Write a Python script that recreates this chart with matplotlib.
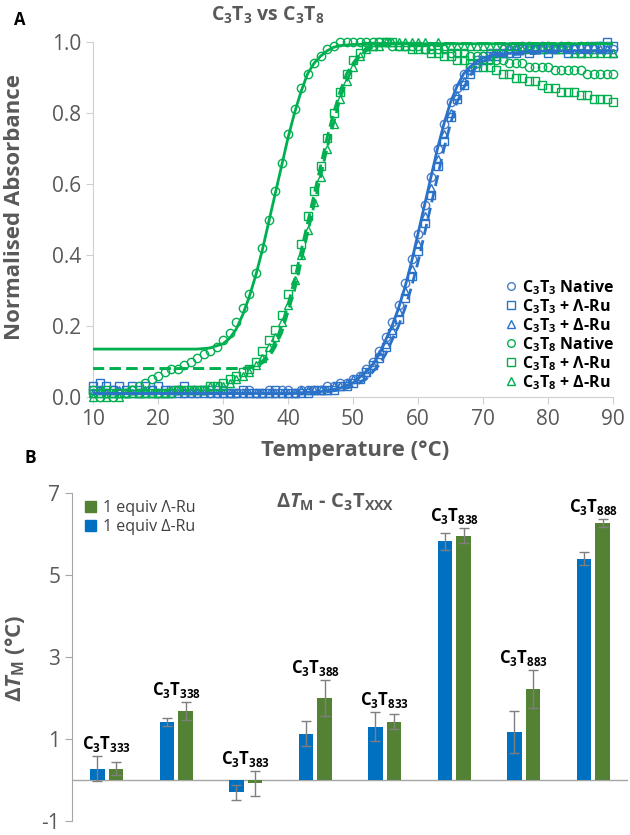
import numpy as np
import matplotlib
matplotlib.use('Agg')
import matplotlib.pyplot as plt
from matplotlib.lines import Line2D
from matplotlib.patches import Patch

plt.rcParams['font.family'] = ['Open Sans', 'DejaVu Sans']
plt.rcParams['mathtext.fontset'] = 'custom'
plt.rcParams['mathtext.rm'] = 'Open Sans'
plt.rcParams['mathtext.bf'] = 'Open Sans:bold'
plt.rcParams['mathtext.it'] = 'Open Sans:italic:bold'
plt.rcParams['mathtext.default'] = 'bf'
plt.rcParams['axes.unicode_minus'] = False

# ---- panel A data: melting curves, 10..90 C in 1 C steps
temps = list(range(10, 91))

c3t3_native = [
    0.02, 0.02, 0.01, 0.02, 0.01, 0.01, 0.02, 0.01, 0.01, 0.02,
    0.01, 0.01, 0.01, 0.02, 0.01, 0.01, 0.01, 0.02, 0.01, 0.01,
    0.02, 0.01, 0.01, 0.01, 0.02, 0.01, 0.01, 0.02, 0.01, 0.02,
    0.02, 0.01, 0.02, 0.02, 0.02, 0.02, 0.03, 0.03, 0.04, 0.04,
    0.05, 0.06, 0.08, 0.10, 0.13, 0.17, 0.21, 0.26, 0.32, 0.39,
    0.46, 0.54, 0.62, 0.70, 0.77, 0.83, 0.87, 0.91, 0.93, 0.95,
    0.96, 0.97, 0.97, 0.98, 0.98, 0.98, 0.99, 0.99, 0.98, 0.99,
    0.99, 0.98, 0.99, 0.99, 0.98, 0.99, 0.99, 0.98, 0.99, 0.99,
    0.98]
c3t3_lambda = [
    0.03, 0.04, 0.03, 0.02, 0.03, 0.02, 0.03, 0.02, 0.03, 0.02,
    0.03, 0.02, 0.02, 0.02, 0.03, 0.02, 0.02, 0.02, 0.02, 0.02,
    0.01, 0.01, 0.01, 0.02, 0.01, 0.01, 0.01, 0.01, 0.02, 0.01,
    0.01, 0.01, 0.01, 0.01, 0.02, 0.02, 0.02, 0.02, 0.03, 0.03,
    0.04, 0.05, 0.07, 0.09, 0.11, 0.14, 0.18, 0.22, 0.28, 0.34,
    0.41, 0.49, 0.57, 0.65, 0.72, 0.79, 0.84, 0.88, 0.91, 0.93,
    0.95, 0.96, 0.96, 0.97, 0.97, 0.97, 0.98, 0.97, 0.98, 0.98,
    0.97, 0.98, 0.98, 0.97, 0.98, 0.97, 0.98, 0.99, 0.99, 1.00,
    0.99]
c3t3_delta = [
    0.01, 0.02, 0.01, 0.01, 0.02, 0.01, 0.01, 0.01, 0.02, 0.01,
    0.01, 0.01, 0.01, 0.01, 0.01, 0.01, 0.01, 0.01, 0.01, 0.01,
    0.01, 0.01, 0.01, 0.01, 0.01, 0.01, 0.01, 0.01, 0.01, 0.01,
    0.01, 0.01, 0.02, 0.02, 0.02, 0.02, 0.02, 0.03, 0.03, 0.04,
    0.05, 0.06, 0.07, 0.09, 0.12, 0.15, 0.19, 0.24, 0.30, 0.36,
    0.43, 0.51, 0.59, 0.67, 0.74, 0.80, 0.85, 0.89, 0.92, 0.94,
    0.95, 0.96, 0.97, 0.97, 0.98, 0.98, 0.98, 0.99, 0.99, 0.99,
    0.99, 0.99, 0.99, 0.99, 0.99, 0.99, 0.99, 0.99, 0.98, 0.98,
    0.97]
c3t8_native = [
    0.01, 0.00, 0.01, 0.00, 0.01, 0.01, 0.02, 0.03, 0.04, 0.05,
    0.06, 0.07, 0.08, 0.08, 0.09, 0.10, 0.11, 0.12, 0.13, 0.14,
    0.16, 0.18, 0.21, 0.25, 0.29, 0.35, 0.42, 0.50, 0.58, 0.66,
    0.74, 0.81, 0.87, 0.91, 0.94, 0.96, 0.98, 0.99, 1.00, 1.00,
    1.00, 1.00, 1.00, 1.00, 1.00, 1.00, 0.99, 0.99, 0.99, 0.99,
    0.99, 0.98, 0.98, 0.98, 0.98, 0.97, 0.97, 0.97, 0.96, 0.96,
    0.96, 0.95, 0.95, 0.95, 0.94, 0.94, 0.94, 0.93, 0.93, 0.93,
    0.93, 0.92, 0.92, 0.92, 0.92, 0.92, 0.91, 0.91, 0.91, 0.91,
    0.91]
c3t8_lambda = [
    0.02, 0.01, 0.02, 0.01, 0.01, 0.01, 0.02, 0.01, 0.01, 0.01,
    0.01, 0.01, 0.01, 0.02, 0.02, 0.02, 0.02, 0.02, 0.03, 0.03,
    0.04, 0.05, 0.06, 0.07, 0.08, 0.10, 0.13, 0.16, 0.19, 0.23,
    0.29, 0.36, 0.43, 0.51, 0.58, 0.65, 0.73, 0.80, 0.86, 0.91,
    0.95, 0.97, 0.99, 0.99, 1.00, 1.00, 1.00, 0.99, 0.99, 0.98,
    0.98, 0.98, 0.97, 0.97, 0.96, 0.96, 0.95, 0.95, 0.94, 0.94,
    0.93, 0.93, 0.92, 0.91, 0.91, 0.90, 0.90, 0.89, 0.89, 0.88,
    0.87, 0.87, 0.86, 0.86, 0.86, 0.85, 0.85, 0.84, 0.84, 0.84,
    0.83]
c3t8_delta = [
    0.00, 0.01, 0.00, 0.01, 0.00, 0.01, 0.01, 0.01, 0.01, 0.01,
    0.01, 0.01, 0.02, 0.02, 0.02, 0.02, 0.02, 0.02, 0.03, 0.03,
    0.03, 0.04, 0.05, 0.06, 0.07, 0.09, 0.11, 0.14, 0.17, 0.21,
    0.26, 0.33, 0.40, 0.47, 0.55, 0.62, 0.70, 0.77, 0.84, 0.89,
    0.93, 0.96, 0.98, 0.99, 0.99, 1.00, 1.00, 1.00, 1.00, 1.00,
    1.00, 1.00, 0.99, 1.00, 0.99, 0.99, 0.99, 0.99, 0.99, 0.99,
    0.99, 0.99, 0.99, 0.99, 0.99, 0.99, 0.98, 0.98, 0.98, 0.98,
    0.98, 0.98, 0.98, 0.98, 0.97, 0.97, 0.97, 0.97, 0.97, 0.97,
    0.97]

# fitted curves
fit_c3t3_native_t = [10, 40, 45, 48, 50, 52, 53, 54, 55, 56, 57, 58, 59, 60, 61, 62, 63, 64, 65,
                     66, 67, 68, 69, 70, 72, 75, 80, 90]
fit_c3t3_native = [0.01, 0.01, 0.015, 0.025, 0.04, 0.07, 0.09, 0.12, 0.16, 0.20, 0.25, 0.31, 0.38,
                   0.46, 0.54, 0.62, 0.70, 0.77, 0.83, 0.875, 0.91, 0.93, 0.945, 0.955, 0.965,
                   0.97, 0.975, 0.975]
fit_c3t3_lambda_t = [10, 40, 45, 48, 50, 52, 53, 54, 55, 56, 57, 58, 59, 60, 61, 62, 63, 64, 65,
                     66, 67, 68, 69, 70, 72, 75, 80, 90]
fit_c3t3_lambda = [0.01, 0.01, 0.012, 0.02, 0.03, 0.05, 0.07, 0.09, 0.12, 0.16, 0.20, 0.25, 0.31,
                   0.38, 0.46, 0.54, 0.62, 0.70, 0.77, 0.83, 0.87, 0.905, 0.93, 0.945, 0.96,
                   0.965, 0.97, 0.97]
fit_c3t8_native_t = [10, 20, 26, 28, 30, 31, 32, 33, 34, 35, 36, 37, 38, 39, 40, 41, 42, 43, 44,
                     45, 46, 47, 48, 50, 55, 60, 70, 80, 90]
fit_c3t8_native = [0.135, 0.135, 0.135, 0.138, 0.15, 0.165, 0.19, 0.23, 0.28, 0.34, 0.41, 0.49,
                   0.57, 0.65, 0.73, 0.80, 0.86, 0.91, 0.94, 0.96, 0.975, 0.985, 0.99, 0.993,
                   0.995, 0.995, 0.995, 0.995, 0.995]
fit_c3t8_lambda_t = [10, 20, 30, 33, 34, 35, 36, 37, 38, 39, 40, 41, 42, 43, 44, 45, 46, 47, 48,
                     49, 50, 51, 52, 53, 54, 56, 60, 70, 80, 90]
fit_c3t8_lambda = [0.08, 0.08, 0.08, 0.081, 0.083, 0.088, 0.10, 0.12, 0.15, 0.20, 0.26, 0.33,
                   0.41, 0.49, 0.57, 0.65, 0.73, 0.80, 0.86, 0.91, 0.94, 0.965, 0.98, 0.99,
                   0.995, 0.998, 0.998, 0.998, 0.998, 0.998]
fit_c3t8_delta_t = [10, 20, 30, 33, 34, 35, 36, 37, 38, 39, 40, 41, 42, 43, 44, 45, 46, 47, 48,
                    49, 50, 51, 52, 53, 54, 56, 60, 70, 80, 90]
fit_c3t8_delta = [0.08, 0.08, 0.08, 0.08, 0.082, 0.085, 0.095, 0.11, 0.14, 0.18, 0.24, 0.30,
                  0.38, 0.46, 0.54, 0.62, 0.70, 0.77, 0.84, 0.89, 0.93, 0.96, 0.975, 0.985,
                  0.99, 0.995, 0.997, 0.997, 0.997, 0.997]

# ---- panel B data
groups = ['333', '338', '383', '388', '833', '838', '883', '888']
delta_ru = [0.28, 1.42, -0.30, 1.13, 1.30, 5.82, 1.17, 5.40]
delta_ru_err = [0.30, 0.10, 0.19, 0.30, 0.36, 0.20, 0.52, 0.15]
lambda_ru = [0.28, 1.68, -0.08, 1.99, 1.42, 5.96, 2.22, 6.27]
lambda_ru_err = [0.17, 0.22, 0.30, 0.44, 0.18, 0.18, 0.46, 0.10]

W, H = 630, 835
fig = plt.figure(figsize=(W / 100, H / 100), dpi=100)


def px(x, y):
    return x / W, 1 - y / H


GREY = '#595959'
BLUE = '#2A72C8'
GREEN = '#00B050'

# ================= panel A
axA = fig.add_axes([93 / W, 1 - 397 / H, 520 / W, 355 / H])

axA.plot(fit_c3t3_native_t, fit_c3t3_native, color=BLUE, lw=2, zorder=4)
axA.plot(fit_c3t3_lambda_t, fit_c3t3_lambda, color=BLUE, lw=2, ls=(0, (4, 2)), zorder=4)
axA.plot(fit_c3t8_native_t, fit_c3t8_native, color=GREEN, lw=2, zorder=4)
axA.plot(fit_c3t8_lambda_t, fit_c3t8_lambda, color=GREEN, lw=2, ls=(0, (4, 2)), zorder=4)
axA.plot(fit_c3t8_delta_t, fit_c3t8_delta, color=GREEN, lw=2, ls=(0, (4, 2)), zorder=4)

series = [
    (c3t3_native, 'o', '#4A7CC8', 'C$_3$T$_3$ Native'),
    (c3t3_lambda, 's', BLUE, 'C$_3$T$_3$ + Λ-Ru'),
    (c3t3_delta, '^', BLUE, 'C$_3$T$_3$ + Δ-Ru'),
    (c3t8_native, 'o', GREEN, 'C$_3$T$_8$ Native'),
    (c3t8_lambda, 's', GREEN, 'C$_3$T$_8$ + Λ-Ru'),
    (c3t8_delta, '^', GREEN, 'C$_3$T$_8$ + Δ-Ru'),
]
handles = []
for vals, mk, col, lab in series:
    axA.plot(temps, vals, ls='none', marker=mk, ms=6, mfc='none', mec=col, mew=1,
             clip_on=False, zorder=3)
    handles.append(Line2D([], [], ls='none', marker=mk, ms=5.5, mfc='none', mec=col, mew=1, label=lab))

axA.set_xlim(10, 90)
axA.set_ylim(0, 1.0)
axA.set_xticks(range(10, 91, 10))
axA.set_yticks([0, 0.2, 0.4, 0.6, 0.8, 1.0])
axA.set_yticklabels(['0.0', '0.2', '0.4', '0.6', '0.8', '1.0'])
for s in ['top', 'right']:
    axA.spines[s].set_visible(False)
for s in ['left', 'bottom']:
    axA.spines[s].set_color('#D0D0D0')
axA.tick_params(colors='#D0D0D0', labelcolor=GREY, labelsize=15, length=5)

axA.legend(handles=handles, loc='upper right', bbox_to_anchor=px(622, 270),
           bbox_transform=fig.transFigure, frameon=False, handlelength=0.8,
           handletextpad=0.3, labelspacing=0.02, borderpad=0,
           prop={'weight': 'bold', 'size': 11.5})

fig.text(*px(20, 20), 'A', fontsize=12, fontweight='bold', ha='center', va='center')
fig.text(*px(268, 15), 'C$_3$T$_3$ vs C$_3$T$_8$', fontsize=14, fontweight='bold',
         color=GREY, ha='center', va='center')
fig.text(*px(15, 207), 'Normalised Absorbance', fontsize=16, fontweight='bold', color=GREY,
         rotation=90, ha='center', va='center')
fig.text(*px(355, 451), 'Temperature (°C)', fontsize=16, fontweight='bold', color=GREY,
         ha='center', va='center')

# ================= panel B
axB = fig.add_axes([72 / W, 1 - 821 / H, 556 / W, 328 / H])
x = np.arange(len(groups))
ekw = dict(ecolor='#7F7F7F', elinewidth=1, capsize=3.5, capthick=1)
axB.bar(x - 0.135, delta_ru, 0.21, color='#0070C0', yerr=delta_ru_err, error_kw=ekw, zorder=2)
axB.bar(x + 0.135, lambda_ru, 0.21, color='#548235', yerr=lambda_ru_err, error_kw=ekw, zorder=2)
axB.axhline(0, color='#A6A6A6', lw=1, zorder=1)
axB.set_xlim(-0.5, 7.5)
axB.set_ylim(-1, 7)
axB.set_yticks([-1, 1, 3, 5, 7])
axB.set_xticks([])
for s in ['top', 'right', 'bottom']:
    axB.spines[s].set_visible(False)
axB.spines['left'].set_color('#A6A6A6')
axB.tick_params(axis='y', colors='#A6A6A6', labelcolor=GREY, labelsize=15, length=5)

for i, g in enumerate(groups):
    top = max(delta_ru[i] + delta_ru_err[i], lambda_ru[i] + lambda_ru_err[i])
    axB.text(i, top + 0.05, 'C$_3$T$_{' + g + '}$', ha='center', va='bottom',
             fontsize=12, fontweight='bold', color='black')

legB = [Patch(color='#548235', label='1 equiv Λ-Ru'), Patch(color='#0070C0', label='1 equiv Δ-Ru')]
fig.legend(handles=legB, loc='upper left', bbox_to_anchor=px(77, 492), frameon=False,
           handlelength=0.7, handleheight=0.7, handletextpad=0.4, labelspacing=0.2,
           borderpad=0, fontsize=11.5, labelcolor='#404040')

fig.text(*px(30, 458), 'B', fontsize=12.5, fontweight='bold', ha='center', va='center')
fig.text(*px(335, 502), r'$Δ\mathit{T}_{M}$ - C$_3$T$_{XXX}$', fontsize=14.5, fontweight='bold',
         color=GREY, ha='center', va='center')
fig.text(*px(15, 658), r'$Δ\mathit{T}_{M}$ (°C)', fontsize=16, fontweight='bold', color=GREY,
         rotation=90, ha='center', va='center')

fig.savefig('out.png', dpi=100)
